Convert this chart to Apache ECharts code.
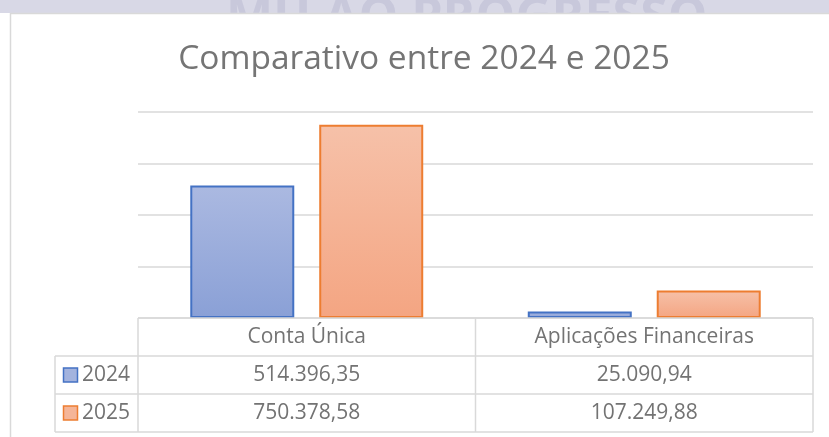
<!DOCTYPE html>
<html><head><meta charset="utf-8">
<script src="https://cdn.jsdelivr.net/npm/echarts@6/dist/echarts.min.js"></script>
<style>html,body{margin:0;padding:0;background:#fff}#c{width:829px;height:437px}</style>
</head><body><div id="c"></div>
<script>
const chartTitle = 'Comparativo entre 2024 e 2025';
const categories = ['Conta Única', 'Aplicações Financeiras'];
const seriesNames = ['2024', '2025'];
const values2024 = [514396.35, 25090.94];
const values2025 = [750378.58, 107249.88];
const yTicks = [0, 200000, 400000, 600000, 800000];
const watermarkText = 'MU AO PROGRESSO';

const FONT = '"Open Sans", "Noto Sans", sans-serif';
const TXT = '#737373';
const LINE = '#d9d9d9';

function fmtBR(v) {
  const parts = v.toFixed(2).split('.');
  return parts[0].replace(/\B(?=(\d{3})+(?!\d))/g, '.') + ',' + parts[1];
}

const seriesStyles = [
  { top: '#abb9e1', bottom: '#8aa0d6', border: '#4472c4', legend: '#a3b3de' },
  { top: '#f6c1a9', bottom: '#f4a582', border: '#ed7d31', legend: '#f5b598' }
];
const seriesValues = [values2024, values2025];

const chart = echarts.init(document.getElementById('c'), null, { renderer: 'canvas' });

const option = {
  backgroundColor: '#ffffff',
  animation: false,
  grid: { left: 138, right: 16, top: 112, bottom: 119, containLabel: false },
  xAxis: {
    type: 'category', data: categories,
    axisLine: { show: false }, axisTick: { show: false }, axisLabel: { show: false }
  },
  yAxis: {
    type: 'value', min: yTicks[0], max: yTicks[yTicks.length - 1], interval: yTicks[1] - yTicks[0],
    axisLabel: { show: false }, axisLine: { show: false }, axisTick: { show: false },
    splitLine: { lineStyle: { color: LINE, width: 1.5 } }
  },
  series: seriesNames.map((name, i) => ({
    name, type: 'bar', data: seriesValues[i],
    barWidth: 104, barGap: '24%',
    itemStyle: {
      color: new echarts.graphic.LinearGradient(0, 0, 0, 1, [
        { offset: 0, color: seriesStyles[i].top },
        { offset: 1, color: seriesStyles[i].bottom }
      ]),
      borderColor: seriesStyles[i].border, borderWidth: 2
    }
  }))
};
chart.setOption(option);

// Build table & decorations using the chart's own scales
const colCenters = categories.map(c => chart.convertToPixel({ xAxisIndex: 0 }, c));
const axisY = chart.convertToPixel({ yAxisIndex: 0 }, 0);
const plotLeft = 138, plotRight = 813;
const midX = (colCenters[0] + colCenters[1]) / 2;
const rowH = 38;
const legendLeft = 55;
const rowTops = [axisY, axisY + rowH, axisY + 2 * rowH, axisY + 3 * rowH];

const els = [];
// top strip and watermark
els.push({ type: 'rect', z: -10, shape: { x: 0, y: 0, width: 829, height: 13 }, style: { fill: '#d8d8e6' } });
els.push({ type: 'text', z: -9, style: { text: watermarkText, x: 226, y: -6, fill: '#c8c8db', font: 'bold 50px "Open Sans", sans-serif', textAlign: 'left', textVerticalAlign: 'top' } });
els.push({ type: 'rect', z: -8, shape: { x: 0, y: 13, width: 829, height: 424 }, style: { fill: '#ffffff' } });
els.push({ type: 'line', z: -7, shape: { x1: 10, y1: 13.5, x2: 829, y2: 13.5 }, style: { stroke: LINE, lineWidth: 1.5 } });
els.push({ type: 'line', z: -7, shape: { x1: 10.5, y1: 13, x2: 10.5, y2: 437 }, style: { stroke: LINE, lineWidth: 1.5 } });

// title
els.push({ type: 'text', z: 10, style: { text: chartTitle, x: 424, y: 59, fill: '#757575', font: '33.5px ' + FONT, textAlign: 'center', textVerticalAlign: 'middle' } });

// table lines
const hl = (x1, x2, y) => els.push({ type: 'line', z: 10, shape: { x1, y1: y, x2, y2: y }, style: { stroke: LINE, lineWidth: 1.5 } });
const vl = (x, y1, y2) => els.push({ type: 'line', z: 10, shape: { x1: x, y1, x2: x, y2 }, style: { stroke: LINE, lineWidth: 1.5 } });
hl(plotLeft, plotRight, rowTops[0]);
hl(legendLeft, plotRight, rowTops[1]);
hl(legendLeft, plotRight, rowTops[2]);
hl(legendLeft, plotRight, rowTops[3]);
vl(legendLeft, rowTops[1], rowTops[3]);
vl(plotLeft, rowTops[0], rowTops[3]);
vl(midX, rowTops[0], rowTops[3]);
vl(plotRight, rowTops[0], rowTops[3]);

// header
categories.forEach((c, j) => {
  els.push({ type: 'text', z: 11, style: { text: c, x: colCenters[j], y: rowTops[0] + rowH / 2, fill: TXT, font: '21px ' + FONT, textAlign: 'center', textVerticalAlign: 'middle' } });
});
// rows
seriesNames.forEach((name, i) => {
  const cy = rowTops[i + 1] + rowH / 2;
  els.push({ type: 'rect', z: 11, shape: { x: 63.5, y: cy - 7, width: 14, height: 14 }, style: { fill: seriesStyles[i].legend, stroke: seriesStyles[i].border, lineWidth: 1.5 } });
  els.push({ type: 'text', z: 11, style: { text: name, x: 82, y: cy, fill: TXT, font: '21px ' + FONT, textAlign: 'left', textVerticalAlign: 'middle' } });
  seriesValues[i].forEach((v, j) => {
    els.push({ type: 'text', z: 11, style: { text: fmtBR(v), x: colCenters[j], y: cy, fill: TXT, font: '21px ' + FONT, textAlign: 'center', textVerticalAlign: 'middle' } });
  });
});

chart.setOption({ graphic: { elements: els } });
</script>
</body></html>
